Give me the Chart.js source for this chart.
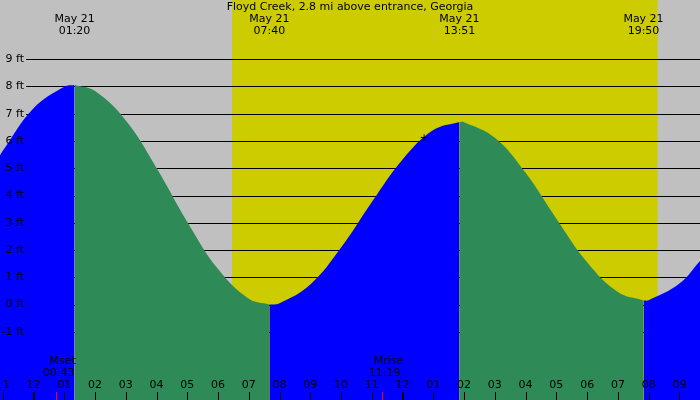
<!DOCTYPE html>
<html><head><meta charset="utf-8">
<script src="https://cdn.jsdelivr.net/npm/chart.js"></script>
<style>body{margin:0;background:#c0c0c0}#w{width:700px;height:400px}</style>
</head><body><div id="w"><canvas id="c"></canvas></div>
<script>
const title = "Floyd Creek, 2.8 mi above entrance, Georgia";
const times =   [-1.09,-1,0,1,1.333,2,3,4,5,6,7,7.667,8,9,10,11,12,13,13.85,14,15,16,17,18,19,19.833,20,21,21.67];
const heights = [5.48,5.64,7.20,7.99,8.05,7.83,6.75,5.01,3.03,1.30,0.21,0.0,0.05,0.74,2.09,3.76,5.32,6.40,6.70,6.69,6.12,4.83,3.15,1.55,0.46,0.15,0.16,0.77,1.6];
const extremeIdx = [4,11,18,25];
const extremeLabels = [["May 21","01:20"],["May 21","07:40"],["May 21","13:51"],["May 21","19:50"]];
const yTicks = [-1,0,1,2,3,4,5,6,7,8,9];
const hourTicks = [-1,0,1,2,3,4,5,6,7,8,9,10,11,12,13,14,15,16,17,18,19,20,21];
const daylight = [6.455,20.29];
const moonEvents = [{name:"Mset",time:"00:43",t:0.717},{name:"Mrise",time:"11:19",t:11.317}];

const pts = times.map((t,i)=>({x:t,y:heights[i]}));
const bounds = [0,...extremeIdx,times.length-1];
const datasets = [];
for(let s=0;s<bounds.length-1;s++){
  const seg = pts.slice(bounds[s],bounds[s+1]+1);
  const rising = seg[seg.length-1].y > seg[0].y;
  datasets.push({data:seg,fill:'start',borderWidth:0,pointRadius:0,tension:0.4,
    backgroundColor: rising ? '#0000ff' : '#2e8b57', borderColor:'rgba(0,0,0,0)'});
}
const F = '11px "DejaVu Sans", sans-serif';
const deco = {
  id:'deco',
  beforeDatasetsDraw(ch){
    const c=ch.ctx,x=ch.scales.x,y=ch.scales.y;
    c.save();
    c.fillStyle='#c0c0c0';c.fillRect(0,0,700,400);
    c.fillStyle='#cccc00';
    c.fillRect(x.getPixelForValue(daylight[0]),0,x.getPixelForValue(daylight[1])-x.getPixelForValue(daylight[0]),400);
    c.strokeStyle='#000';c.lineWidth=1;
    yTicks.forEach(v=>{const p=Math.round(y.getPixelForValue(v))+0.5;c.beginPath();c.moveTo(26,p);c.lineTo(700,p);c.stroke();});
    c.restore();
  },
  afterDatasetsDraw(ch){
    const c=ch.ctx,x=ch.scales.x,y=ch.scales.y;
    c.save();c.fillStyle='#000';c.font=F;
    c.textAlign='center';c.textBaseline='middle';
    c.fillText(title,350,7);
    extremeIdx.forEach((k,i)=>{const px=x.getPixelForValue(times[k]);
      c.fillText(extremeLabels[i][0],px,19);c.fillText(extremeLabels[i][1],px,31);});
    c.textAlign='right';
    yTicks.forEach(v=>c.fillText(v+" ft",24,y.getPixelForValue(v)));
    c.textAlign='center';
    hourTicks.forEach(h=>{const px=x.getPixelForValue(h);
      let hh=((h%12)+12)%12; if(hh===0)hh=12;
      c.fillText(String(hh).padStart(2,'0'),px,385);
      c.fillStyle='#000';const w=(h%12===0)?2:1;
      c.fillRect(Math.round(px)-(w>1?1:0),392,w,8);});
    moonEvents.forEach(m=>{const px=x.getPixelForValue(m.t);
      c.fillText(m.name,px+7,361);c.fillText(m.time,px+3,373);
      c.fillStyle='#ff0000';c.fillRect(Math.round(px),392,1,8);c.fillStyle='#000';});
    c.fillText('+',424,138);
    c.restore();
  }
};
new Chart(document.getElementById('c'),{type:'line',data:{datasets},
  options:{responsive:true,maintainAspectRatio:false,animation:false,
    layout:{padding:0},
    plugins:{legend:{display:false},tooltip:{enabled:false}},
    scales:{x:{type:'linear',min:-1.09,max:21.67,display:false},
            y:{min:-3.5,max:11.17,display:false}}},
  plugins:[deco]});
</script></body></html>
